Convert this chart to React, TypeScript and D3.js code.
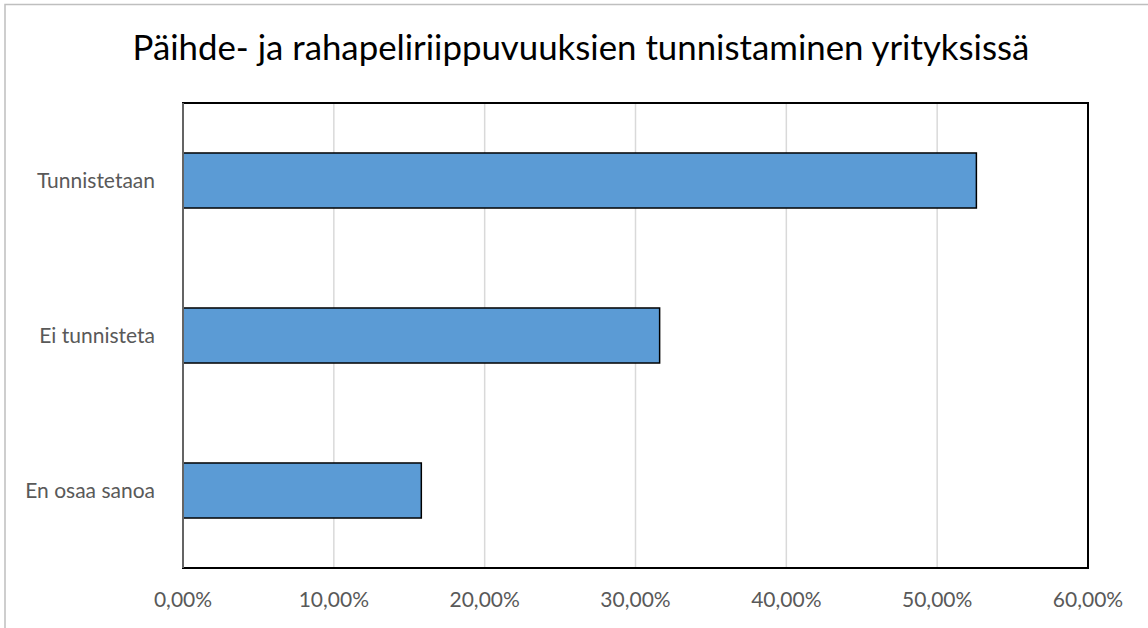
import * as d3 from "d3";
import { useEffect, useRef } from "react";

const categories = ["Tunnistetaan", "Ei tunnisteta", "En osaa sanoa"];
const shares = [52.6, 31.6, 15.8];
const tickValues = [0, 10, 20, 30, 40, 50, 60];
const title = "Päihde- ja rahapeliriippuvuuksien tunnistaminen yrityksissä";

const W = 1148;
const H = 628;
const FONT = "Lato, 'Open Sans', sans-serif";

export default function App() {
  const ref = useRef<SVGSVGElement | null>(null);

  useEffect(() => {
    const svg = d3.select(ref.current);
    svg.html("");

    const margin = { top: 103, right: 60, bottom: 60, left: 183 };
    const pw = 1088 - margin.left;
    const ph = 568 - margin.top;

    svg.append("rect")
      .attr("width", W).attr("height", H).attr("fill", "#fff");

    // outer chart border (clipped on right/bottom)
    svg.append("rect")
      .attr("x", 5).attr("y", 4.5)
      .attr("width", W + 20).attr("height", H + 20)
      .attr("fill", "none").attr("stroke", "#bfbfbf").attr("stroke-width", 1.5);

    svg.append("text")
      .attr("x", 581).attr("y", 60)
      .attr("text-anchor", "middle")
      .attr("font-family", FONT)
      .attr("font-size", 34.8)
      .attr("fill", "#000")
      .text(title);

    const g = svg.append("g").attr("transform", `translate(${margin.left},${margin.top})`);

    const x = d3.scaleLinear().domain([0, 60]).range([0, pw]);
    const y = d3.scaleBand<string>()
      .domain(categories)
      .range([0, ph])
      .paddingInner(0.645)
      .paddingOuter(0.3225);

    // gridlines
    g.selectAll(".grid")
      .data(tickValues.slice(1, -1))
      .enter()
      .append("line")
      .attr("x1", d => x(d)).attr("x2", d => x(d))
      .attr("y1", 0).attr("y2", ph)
      .attr("stroke", "#d9d9d9").attr("stroke-width", 1.5);

    // bars
    g.selectAll(".bar")
      .data(categories)
      .enter()
      .append("rect")
      .attr("x", 0)
      .attr("y", d => y(d)!)
      .attr("width", (_, i) => x(shares[i]))
      .attr("height", y.bandwidth())
      .attr("fill", "#5b9bd5")
      .attr("stroke", "#000")
      .attr("stroke-width", 1.5);

    // plot area border
    g.append("rect")
      .attr("x", 0).attr("y", 0).attr("width", pw).attr("height", ph)
      .attr("fill", "none").attr("stroke", "#000").attr("stroke-width", 2);

    // vertical axis line
    g.append("line")
      .attr("x1", 0).attr("x2", 0).attr("y1", 0).attr("y2", ph)
      .attr("stroke", "#868686").attr("stroke-width", 1.5);

    // x tick labels
    g.selectAll(".xt")
      .data(tickValues)
      .enter()
      .append("text")
      .attr("x", d => x(d))
      .attr("y", ph + 39)
      .attr("text-anchor", "middle")
      .attr("font-family", FONT)
      .attr("font-size", 21)
      .attr("fill", "#595959")
      .text(d => d3.format(".2f")(d).replace(".", ",") + "%");

    // category labels
    g.selectAll(".yt")
      .data(categories)
      .enter()
      .append("text")
      .attr("x", -28)
      .attr("y", d => y(d)! + y.bandwidth() / 2)
      .attr("dy", "0.35em")
      .attr("text-anchor", "end")
      .attr("font-family", FONT)
      .attr("font-size", 21)
      .attr("fill", "#595959")
      .text(d => d);
  }, []);

  return (
    <svg
      ref={ref}
      width={W}
      height={H}
      style={{ position: "fixed", left: 0, top: 0, display: "block" }}
    />
  );
}
